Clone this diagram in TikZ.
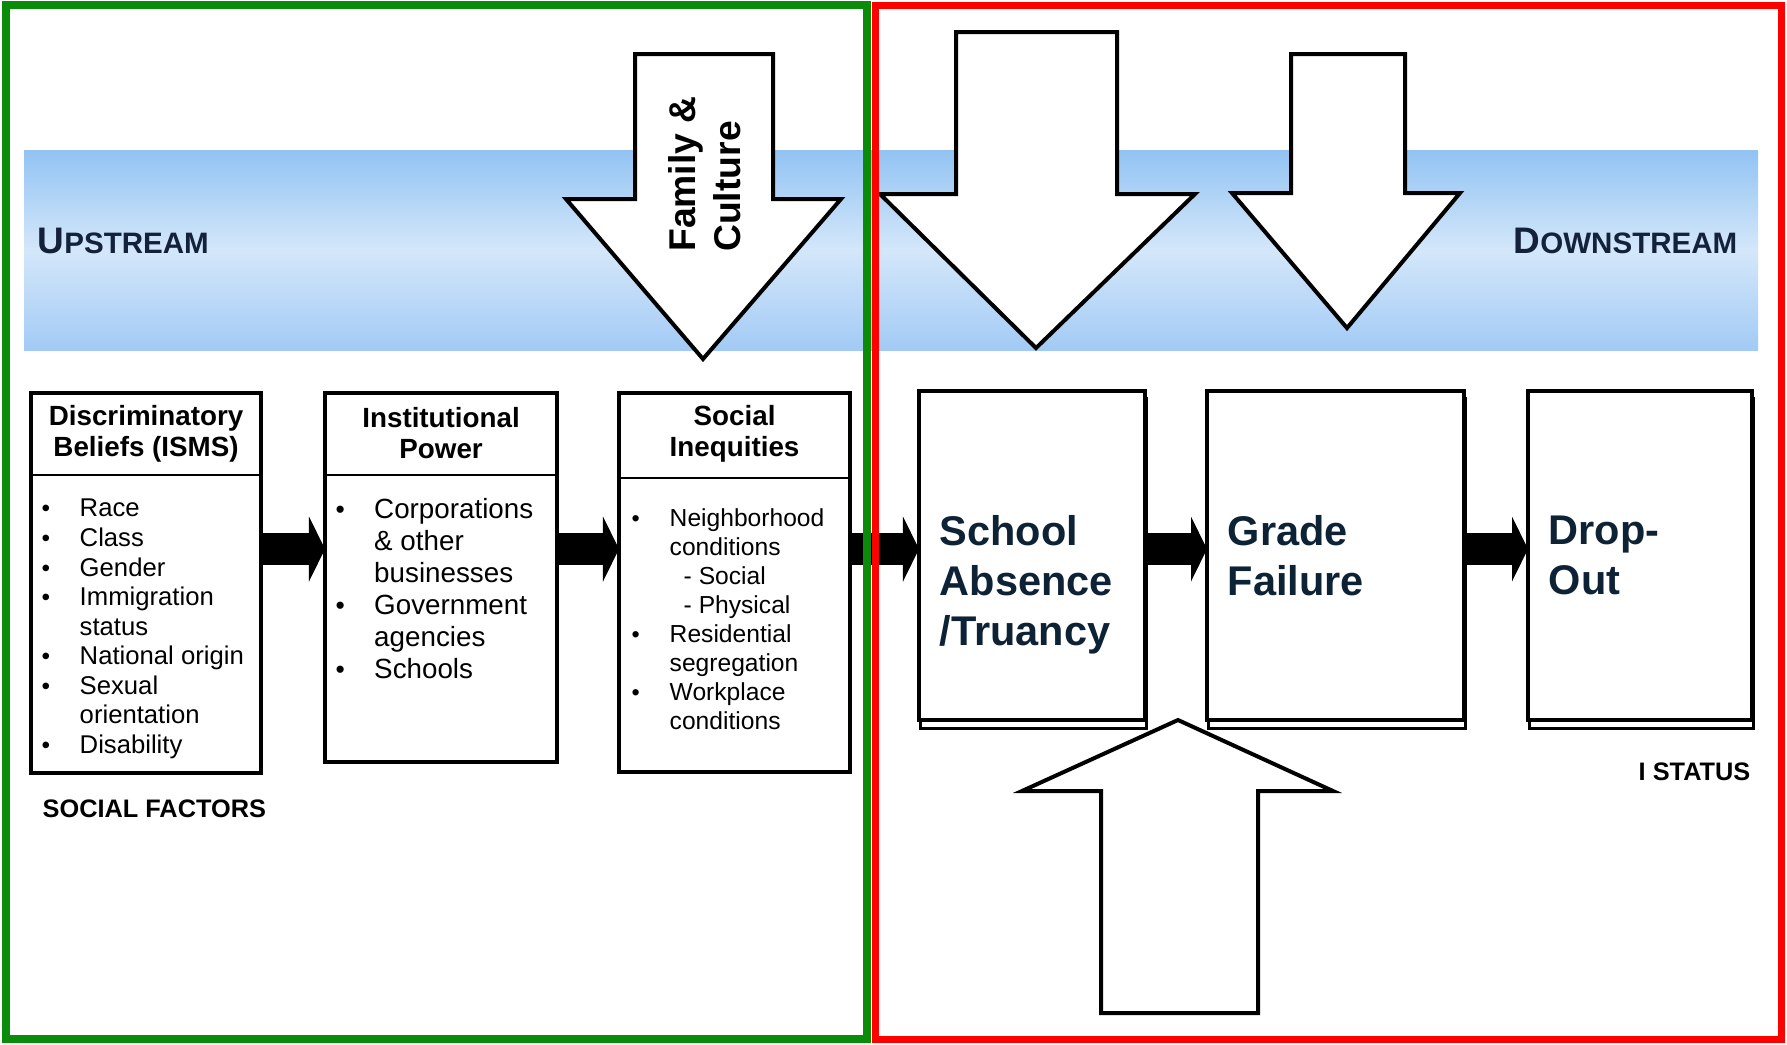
\documentclass[tikz,border=0pt]{standalone}
\usepackage{fontspec}
\setmainfont{Liberation Sans}
\usetikzlibrary{positioning, arrows.meta, calc, shadows}

\definecolor{navy}{HTML}{13223A}
\definecolor{stagetxt}{HTML}{0E2236}
\definecolor{frameg}{HTML}{0A8C0A}
\definecolor{framer}{HTML}{FF0000}
\definecolor{bandtop}{HTML}{92C3F3}
\definecolor{bandmid}{HTML}{D4E7FA}
\definecolor{bandbot}{HTML}{A2CAF5}

\newcommand{\smallbul}{\scalebox{0.95}{\textbullet}}

\begin{document}
\begin{tikzpicture}[x=0.01cm, y=-0.01cm,
    factor/.style={draw, line width=1pt, fill=white, anchor=north west, outer sep=0, inner sep=0, minimum width=2.3cm},
    headtext/.style={font=\bfseries\fontsize{7.9}{8.8}\selectfont, align=center, inner sep=0},
    listtext/.style={anchor=north west, inner sep=0},
    stage/.style={draw, line width=1.3pt, fill=white, anchor=north west, outer sep=0, inner sep=0, minimum height=3.29cm,
        general shadow={draw, line width=0.9pt, fill=white, shadow xshift=0.015cm, shadow yshift=-0.08cm}},
    stagetext/.style={font=\bfseries\fontsize{11.8}{14.2}\selectfont, text=stagetxt, align=left, inner sep=0, anchor=west},
    stream/.style={font=\bfseries\fontsize{8.4}{10}\selectfont, text=navy, inner sep=0, anchor=base west},
    caption/.style={font=\bfseries\fontsize{7.2}{8.6}\selectfont, inner sep=0, anchor=base west},
    bigarrow/.style={draw=black, line width=0.04cm, fill=white, line join=miter},
    flow/.style={line width=0.32cm, -{Triangle[width=0.65cm, length=0.16cm, line width=0pt]}}]

    \useasboundingbox (0,0) rectangle (1787,1044);
    \fill[white] (0,0) rectangle (1787,1044);

    % water band
    \shade[top color=bandtop, bottom color=bandbot, middle color=bandmid] (24,150) rectangle (1758,350);
    \node[stream] (upstream) at (37,253) {{\fontsize{10.5}{12}\selectfont U}PSTREAM};
    \node[stream] (downstream) at (1513,253) {{\fontsize{10.5}{12}\selectfont D}OWNSTREAM};

    % white arrows (three from above, one from below)
    \foreach \l/\r/\t/\h/\hl/\hr/\tx/\ty in {635/773/54/199/566/841/703/359, 956/1117/32/194/880/1195/1036/348, 1291/1405/54/193/1232/1460/1347/328}
        \draw[bigarrow] (\l,\t) -- (\r,\t) -- (\r,\h) -- (\hr,\h) -- (\tx,\ty) -- (\hl,\h) -- (\l,\h) -- cycle;
    \node[font=\bfseries\fontsize{10.6}{12.8}\selectfont, rotate=90, align=left, inner sep=0] (family) at (705,174) {Family \&\\Culture};

    % social factors
    \node[factor, minimum height=3.8cm] (isms) at (31,393) {};
    \node[factor, minimum height=3.69cm, minimum width=2.32cm] (power) at (325,393) {};
    \node[factor, minimum height=3.79cm, minimum width=2.31cm] (inequity) at (619,393) {};

    \draw[line width=0.7pt] ([yshift=-0.82cm]isms.north west) -- ([yshift=-0.82cm]isms.north east);
    \draw[line width=0.7pt] ([yshift=-0.82cm]power.north west) -- ([yshift=-0.82cm]power.north east);
    \draw[line width=0.7pt] ([yshift=-0.85cm]inequity.north west) -- ([yshift=-0.85cm]inequity.north east);

    \node[headtext] (ismshead) at ([yshift=-0.41cm]isms.north) {Discriminatory\\Beliefs (ISMS)};
    \node[headtext] (powerhead) at ([yshift=-0.40cm]power.north) {Institutional\\Power};
    \node[headtext] (inequityhead) at ([yshift=-0.41cm]inequity.north) {Social\\Inequities};

    \node[listtext, font=\fontsize{7.3}{8.4}\selectfont] (ismslist) at ([xshift=0.10cm, yshift=-1.025cm]isms.north west)
        {\begin{tabular}{@{}p{0.38cm}@{}l@{}}
            \smallbul & Race\\ \smallbul & Class\\ \smallbul & Gender\\ \smallbul & Immigration\\ & status\\
            \smallbul & National origin\\ \smallbul & Sexual\\ & orientation\\ \smallbul & Disability
        \end{tabular}};
    \node[listtext, font=\fontsize{7.9}{9.1}\selectfont] (powerlist) at ([xshift=0.10cm, yshift=-1.025cm]power.north west)
        {\begin{tabular}{@{}p{0.385cm}@{}l@{}}
            \smallbul & Corporations\\ & \& other\\ & businesses\\ \smallbul & Government\\ & agencies\\ \smallbul & Schools
        \end{tabular}};
    \node[listtext, font=\fontsize{7}{8.25}\selectfont] (inequitylist) at ([xshift=0.12cm, yshift=-1.125cm]inequity.north west)
        {\begin{tabular}{@{}p{0.38cm}@{}l@{}}
            \smallbul & Neighborhood\\ & conditions\\ & \hspace*{0.14cm}- Social\\ & \hspace*{0.14cm}- Physical\\
            \smallbul & Residential\\ & segregation\\ \smallbul & Workplace\\ & conditions
        \end{tabular}};

    \node[caption] (social) at (42,817) {SOCIAL FACTORS};

    % school stages
    \node[stage, minimum width=2.26cm] (absence) at (919,391) {};
    \node[stage, minimum width=2.57cm] (grade) at (1207,391) {};
    \node[stage, minimum width=2.24cm] (dropout) at (1528,391) {};

    \node[stagetext] (absencetxt) at ([xshift=0.20cm, yshift=-0.29cm]absence.west) {School\\Absence\\/Truancy};
    \node[stagetext] (gradetxt) at ([xshift=0.20cm]grade.west) {Grade\\Failure};
    \node[stagetext] (dropouttxt) at ([xshift=0.20cm]dropout.west) {Drop-\\Out};

    \node[caption] (status) at (1638,780) {I STATUS};

    % flow arrows
    \coordinate (flowline) at (0,549);
    \draw[flow] (isms.east |- flowline) -- (power.west |- flowline);
    \draw[flow] (power.east |- flowline) -- (inequity.west |- flowline);
    \draw[flow] (inequity.east |- flowline) -- (absence.west |- flowline);
    \draw[flow] (absence.east |- flowline) -- (grade.west |- flowline);
    \draw[flow] (grade.east |- flowline) -- (dropout.west |- flowline);

    % arrow from below
    \draw[bigarrow] (1101,1013) -- (1258,1013) -- (1258,791) -- (1333,791) -- (1178,720) -- (1022,791) -- (1101,791) -- cycle;

    % frames
    \draw[frameg, line width=0.08cm] (6,5) rectangle (867,1039);
    \draw[framer, line width=0.07cm] (875,5) rectangle (1781,1039);
\end{tikzpicture}
\end{document}
